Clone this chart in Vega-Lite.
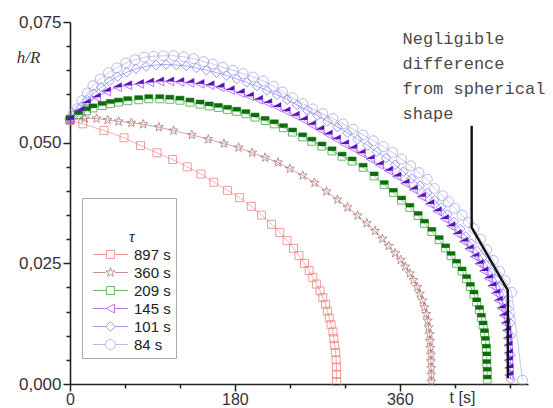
{
  "$schema": "https://vega.github.io/schema/vega-lite/v6.json",
  "width": 458,
  "height": 362,
  "autosize": "none",
  "padding": {"left": 70, "top": 22, "right": 25, "bottom": 24},
  "background": "white",
  "config": {
    "view": {"stroke": null},
    "legend": {
      "orient": "none", "legendX": 12, "legendY": 176, "padding": 5,
      "strokeColor": "#aaaaaa", "fillColor": "white",
      "symbolOffset": 16, "labelOffset": 16, "labelFontSize": 15, "labelFont": "Liberation Sans", "labelColor": "#222222",
      "rowPadding": 2, "titleFont": "Liberation Serif", "titleFontStyle": "italic", "titleFontWeight": "normal",
      "titleFontSize": 16, "titleLineHeight": 26, "titlePadding": 2, "titleAnchor": "middle", "titleAlign": "left",
      "titleColor": "#222222", "symbolStrokeWidth": 1, "symbolSize": 64, "symbolFillColor": "transparent"
    }
  },
  "datasets": {
    "curves": [
      {"s":"897 s","t":0,"h":0.0546},{"s":"897 s","t":14,"h":0.0539},{"s":"897 s","t":37,"h":0.0525},{"s":"897 s","t":59,"h":0.0510},{"s":"897 s","t":77,"h":0.0494},{"s":"897 s","t":95,"h":0.0479},{"s":"897 s","t":112,"h":0.0465},{"s":"897 s","t":128,"h":0.0450},{"s":"897 s","t":143,"h":0.0435},{"s":"897 s","t":157,"h":0.0418},{"s":"897 s","t":172,"h":0.0401},{"s":"897 s","t":185,"h":0.0386},{"s":"897 s","t":198,"h":0.0368},{"s":"897 s","t":209,"h":0.0350},{"s":"897 s","t":220,"h":0.0331},{"s":"897 s","t":229,"h":0.0314},{"s":"897 s","t":237,"h":0.0297},{"s":"897 s","t":244,"h":0.0281},{"s":"897 s","t":250,"h":0.0266},{"s":"897 s","t":256,"h":0.0250},{"s":"897 s","t":261,"h":0.0235},{"s":"897 s","t":265,"h":0.0221},{"s":"897 s","t":269,"h":0.0207},{"s":"897 s","t":273,"h":0.0193},{"s":"897 s","t":276,"h":0.0179},{"s":"897 s","t":279,"h":0.0165},{"s":"897 s","t":281,"h":0.0151},{"s":"897 s","t":283,"h":0.0137},{"s":"897 s","t":285,"h":0.0123},{"s":"897 s","t":287,"h":0.0108},{"s":"897 s","t":288,"h":0.0094},{"s":"897 s","t":289,"h":0.0080},{"s":"897 s","t":290,"h":0.0065},{"s":"897 s","t":290.5,"h":0.0050},{"s":"897 s","t":291,"h":0.0035},{"s":"897 s","t":291,"h":0.0020},{"s":"897 s","t":291,"h":0.0005},
      {"s":"360 s","t":0,"h":0.0548},{"s":"360 s","t":16,"h":0.0550},{"s":"360 s","t":29,"h":0.0550},{"s":"360 s","t":41,"h":0.0547},{"s":"360 s","t":53,"h":0.0544},{"s":"360 s","t":67,"h":0.0541},{"s":"360 s","t":80,"h":0.0538},{"s":"360 s","t":97,"h":0.0532},{"s":"360 s","t":113,"h":0.0525},{"s":"360 s","t":133,"h":0.0516},{"s":"360 s","t":151,"h":0.0507},{"s":"360 s","t":168,"h":0.0498},{"s":"360 s","t":184,"h":0.0490},{"s":"360 s","t":199,"h":0.0479},{"s":"360 s","t":213,"h":0.0469},{"s":"360 s","t":227,"h":0.0459},{"s":"360 s","t":240,"h":0.0446},{"s":"360 s","t":254,"h":0.0432},{"s":"360 s","t":267,"h":0.0417},{"s":"360 s","t":280,"h":0.0399},{"s":"360 s","t":292,"h":0.0382},{"s":"360 s","t":303,"h":0.0366},{"s":"360 s","t":314,"h":0.0349},{"s":"360 s","t":324,"h":0.0333},{"s":"360 s","t":333,"h":0.0317},{"s":"360 s","t":341,"h":0.0301},{"s":"360 s","t":348,"h":0.0286},{"s":"360 s","t":355,"h":0.0271},{"s":"360 s","t":361,"h":0.0257},{"s":"360 s","t":366,"h":0.0243},{"s":"360 s","t":371,"h":0.0229},{"s":"360 s","t":375,"h":0.0215},{"s":"360 s","t":379,"h":0.0201},{"s":"360 s","t":382,"h":0.0187},{"s":"360 s","t":385,"h":0.0173},{"s":"360 s","t":387,"h":0.0159},{"s":"360 s","t":389,"h":0.0145},{"s":"360 s","t":390.5,"h":0.0131},{"s":"360 s","t":391.5,"h":0.0117},{"s":"360 s","t":392.5,"h":0.0103},{"s":"360 s","t":393,"h":0.0089},{"s":"360 s","t":393.5,"h":0.0075},{"s":"360 s","t":394,"h":0.0061},{"s":"360 s","t":394,"h":0.0047},{"s":"360 s","t":394.5,"h":0.0033},{"s":"360 s","t":394.5,"h":0.0019},{"s":"360 s","t":394.5,"h":0.0005},
      {"s":"209 s","t":0,"h":0.0548},{"s":"209 s","t":9,"h":0.0558},{"s":"209 s","t":18,"h":0.0566},{"s":"209 s","t":25,"h":0.0572},{"s":"209 s","t":35,"h":0.0577},{"s":"209 s","t":44,"h":0.0581},{"s":"209 s","t":53,"h":0.0584},{"s":"209 s","t":63,"h":0.0587},{"s":"209 s","t":75,"h":0.0589},{"s":"209 s","t":86,"h":0.0591},{"s":"209 s","t":98,"h":0.0591},{"s":"209 s","t":109,"h":0.0590},{"s":"209 s","t":120,"h":0.0588},{"s":"209 s","t":131,"h":0.0584},{"s":"209 s","t":142,"h":0.0580},{"s":"209 s","t":152,"h":0.0576},{"s":"209 s","t":162,"h":0.0573},{"s":"209 s","t":172,"h":0.0569},{"s":"209 s","t":182,"h":0.0565},{"s":"209 s","t":192,"h":0.0560},{"s":"209 s","t":202,"h":0.0553},{"s":"209 s","t":213,"h":0.0546},{"s":"209 s","t":223,"h":0.0539},{"s":"209 s","t":233,"h":0.0531},{"s":"209 s","t":243,"h":0.0522},{"s":"209 s","t":254,"h":0.0512},{"s":"209 s","t":264,"h":0.0503},{"s":"209 s","t":275,"h":0.0493},{"s":"209 s","t":286,"h":0.0483},{"s":"209 s","t":297,"h":0.0472},{"s":"209 s","t":308,"h":0.0462},{"s":"209 s","t":320,"h":0.0449},{"s":"209 s","t":332,"h":0.0431},{"s":"209 s","t":343,"h":0.0413},{"s":"209 s","t":353,"h":0.0397},{"s":"209 s","t":362,"h":0.0381},{"s":"209 s","t":371,"h":0.0366},{"s":"209 s","t":380,"h":0.0349},{"s":"209 s","t":387,"h":0.0333},{"s":"209 s","t":395,"h":0.0316},{"s":"209 s","t":403,"h":0.0299},{"s":"209 s","t":410,"h":0.0282},{"s":"209 s","t":416,"h":0.0266},{"s":"209 s","t":422,"h":0.0250},{"s":"209 s","t":428,"h":0.0234},{"s":"209 s","t":433,"h":0.0218},{"s":"209 s","t":437,"h":0.0202},{"s":"209 s","t":441,"h":0.0186},{"s":"209 s","t":444,"h":0.0170},{"s":"209 s","t":447,"h":0.0154},{"s":"209 s","t":449,"h":0.0138},{"s":"209 s","t":451,"h":0.0122},{"s":"209 s","t":452.5,"h":0.0106},{"s":"209 s","t":453.5,"h":0.0090},{"s":"209 s","t":454.5,"h":0.0074},{"s":"209 s","t":455,"h":0.0058},{"s":"209 s","t":455,"h":0.0042},{"s":"209 s","t":455.5,"h":0.0026},{"s":"209 s","t":455.5,"h":0.0010},
      {"s":"145 s","t":0,"h":0.0548},{"s":"145 s","t":11,"h":0.0566},{"s":"145 s","t":18,"h":0.0582},{"s":"145 s","t":29,"h":0.0594},{"s":"145 s","t":40,"h":0.0606},{"s":"145 s","t":52,"h":0.0615},{"s":"145 s","t":63,"h":0.0619},{"s":"145 s","t":76,"h":0.0622},{"s":"145 s","t":87,"h":0.0625},{"s":"145 s","t":98,"h":0.0627},{"s":"145 s","t":109,"h":0.0627},{"s":"145 s","t":120,"h":0.0626},{"s":"145 s","t":131,"h":0.0624},{"s":"145 s","t":142,"h":0.0622},{"s":"145 s","t":153,"h":0.0619},{"s":"145 s","t":164,"h":0.0615},{"s":"145 s","t":175,"h":0.0609},{"s":"145 s","t":186,"h":0.0603},{"s":"145 s","t":196,"h":0.0596},{"s":"145 s","t":206,"h":0.0589},{"s":"145 s","t":216,"h":0.0582},{"s":"145 s","t":226,"h":0.0574},{"s":"145 s","t":236,"h":0.0565},{"s":"145 s","t":246,"h":0.0556},{"s":"145 s","t":255,"h":0.0547},{"s":"145 s","t":264,"h":0.0537},{"s":"145 s","t":273,"h":0.0527},{"s":"145 s","t":282,"h":0.0517},{"s":"145 s","t":291,"h":0.0507},{"s":"145 s","t":300,"h":0.0497},{"s":"145 s","t":309,"h":0.0488},{"s":"145 s","t":318,"h":0.0478},{"s":"145 s","t":328,"h":0.0466},{"s":"145 s","t":338,"h":0.0454},{"s":"145 s","t":348,"h":0.0442},{"s":"145 s","t":357,"h":0.0430},{"s":"145 s","t":366,"h":0.0416},{"s":"145 s","t":375,"h":0.0403},{"s":"145 s","t":384,"h":0.0388},{"s":"145 s","t":393,"h":0.0373},{"s":"145 s","t":401,"h":0.0358},{"s":"145 s","t":409,"h":0.0342},{"s":"145 s","t":416,"h":0.0327},{"s":"145 s","t":423,"h":0.0311},{"s":"145 s","t":430,"h":0.0295},{"s":"145 s","t":436,"h":0.0280},{"s":"145 s","t":442,"h":0.0264},{"s":"145 s","t":447,"h":0.0249},{"s":"145 s","t":452,"h":0.0234},{"s":"145 s","t":457,"h":0.0219},{"s":"145 s","t":461,"h":0.0203},{"s":"145 s","t":465,"h":0.0188},{"s":"145 s","t":468,"h":0.0173},{"s":"145 s","t":471,"h":0.0157},{"s":"145 s","t":473.5,"h":0.0142},{"s":"145 s","t":475.5,"h":0.0126},{"s":"145 s","t":477,"h":0.0111},{"s":"145 s","t":478,"h":0.0095},{"s":"145 s","t":478.5,"h":0.0080},{"s":"145 s","t":479,"h":0.0064},{"s":"145 s","t":479,"h":0.0049},{"s":"145 s","t":479.5,"h":0.0033},{"s":"145 s","t":479.5,"h":0.0018},
      {"s":"101 s","t":0,"h":0.0548},{"s":"101 s","t":6,"h":0.0560},{"s":"101 s","t":12,"h":0.0574},{"s":"101 s","t":19,"h":0.0588},{"s":"101 s","t":26,"h":0.0602},{"s":"101 s","t":34,"h":0.0615},{"s":"101 s","t":43,"h":0.0627},{"s":"101 s","t":52,"h":0.0637},{"s":"101 s","t":62,"h":0.0646},{"s":"101 s","t":72,"h":0.0653},{"s":"101 s","t":83,"h":0.0658},{"s":"101 s","t":94,"h":0.0661},{"s":"101 s","t":105,"h":0.0662},{"s":"101 s","t":116,"h":0.0661},{"s":"101 s","t":127,"h":0.0659},{"s":"101 s","t":138,"h":0.0655},{"s":"101 s","t":149,"h":0.0650},{"s":"101 s","t":160,"h":0.0645},{"s":"101 s","t":171,"h":0.0639},{"s":"101 s","t":182,"h":0.0632},{"s":"101 s","t":193,"h":0.0625},{"s":"101 s","t":204,"h":0.0617},{"s":"101 s","t":215,"h":0.0608},{"s":"101 s","t":226,"h":0.0599},{"s":"101 s","t":237,"h":0.0589},{"s":"101 s","t":248,"h":0.0578},{"s":"101 s","t":259,"h":0.0567},{"s":"101 s","t":270,"h":0.0556},{"s":"101 s","t":281,"h":0.0544},{"s":"101 s","t":292,"h":0.0532},{"s":"101 s","t":303,"h":0.0520},{"s":"101 s","t":314,"h":0.0507},{"s":"101 s","t":325,"h":0.0494},{"s":"101 s","t":335,"h":0.0481},{"s":"101 s","t":345,"h":0.0468},{"s":"101 s","t":355,"h":0.0454},{"s":"101 s","t":364,"h":0.0440},{"s":"101 s","t":373,"h":0.0426},{"s":"101 s","t":382,"h":0.0411},{"s":"101 s","t":390,"h":0.0396},{"s":"101 s","t":398,"h":0.0381},{"s":"101 s","t":405,"h":0.0366},{"s":"101 s","t":412,"h":0.0351},{"s":"101 s","t":419,"h":0.0336},{"s":"101 s","t":426,"h":0.0321},{"s":"101 s","t":432,"h":0.0306},{"s":"101 s","t":438,"h":0.0291},{"s":"101 s","t":444,"h":0.0276},{"s":"101 s","t":450,"h":0.0261},{"s":"101 s","t":455,"h":0.0246},{"s":"101 s","t":460,"h":0.0231},{"s":"101 s","t":465,"h":0.0216},{"s":"101 s","t":469,"h":0.0201},{"s":"101 s","t":473,"h":0.0186},{"s":"101 s","t":476,"h":0.0171},{"s":"101 s","t":478,"h":0.0156},{"s":"101 s","t":479.5,"h":0.0141},{"s":"101 s","t":480.5,"h":0.0126},{"s":"101 s","t":481,"h":0.0100},{"s":"101 s","t":481,"h":0.0060},{"s":"101 s","t":481,"h":0.0010},
      {"s":"84 s","t":0,"h":0.0550},{"s":"84 s","t":4,"h":0.0560},{"s":"84 s","t":8,"h":0.0570},{"s":"84 s","t":13,"h":0.0587},{"s":"84 s","t":19,"h":0.0603},{"s":"84 s","t":25,"h":0.0618},{"s":"84 s","t":33,"h":0.0632},{"s":"84 s","t":42,"h":0.0645},{"s":"84 s","t":51,"h":0.0655},{"s":"84 s","t":61,"h":0.0665},{"s":"84 s","t":71,"h":0.0672},{"s":"84 s","t":81,"h":0.0677},{"s":"84 s","t":91,"h":0.0679},{"s":"84 s","t":102,"h":0.0680},{"s":"84 s","t":113,"h":0.0680},{"s":"84 s","t":124,"h":0.0678},{"s":"84 s","t":135,"h":0.0674},{"s":"84 s","t":146,"h":0.0668},{"s":"84 s","t":156,"h":0.0663},{"s":"84 s","t":167,"h":0.0656},{"s":"84 s","t":178,"h":0.0650},{"s":"84 s","t":189,"h":0.0643},{"s":"84 s","t":200,"h":0.0636},{"s":"84 s","t":211,"h":0.0628},{"s":"84 s","t":222,"h":0.0617},{"s":"84 s","t":232,"h":0.0605},{"s":"84 s","t":243,"h":0.0593},{"s":"84 s","t":254,"h":0.0581},{"s":"84 s","t":265,"h":0.0570},{"s":"84 s","t":276,"h":0.0560},{"s":"84 s","t":287,"h":0.0550},{"s":"84 s","t":298,"h":0.0539},{"s":"84 s","t":309,"h":0.0528},{"s":"84 s","t":320,"h":0.0516},{"s":"84 s","t":331,"h":0.0504},{"s":"84 s","t":342,"h":0.0492},{"s":"84 s","t":352,"h":0.0480},{"s":"84 s","t":362,"h":0.0466},{"s":"84 s","t":372,"h":0.0452},{"s":"84 s","t":381,"h":0.0438},{"s":"84 s","t":390,"h":0.0424},{"s":"84 s","t":398,"h":0.0405},{"s":"84 s","t":407,"h":0.0390},{"s":"84 s","t":413,"h":0.0378},{"s":"84 s","t":420,"h":0.0364},{"s":"84 s","t":428,"h":0.0350},{"s":"84 s","t":435,"h":0.0335},{"s":"84 s","t":441,"h":0.0322},{"s":"84 s","t":448,"h":0.0300},{"s":"84 s","t":455,"h":0.0278},{"s":"84 s","t":462,"h":0.0256},{"s":"84 s","t":469,"h":0.0233},{"s":"84 s","t":475,"h":0.0214},{"s":"84 s","t":482,"h":0.0190},{"s":"84 s","t":494,"h":0.0008}
    ],
    "ann": [
      {"t":438.5,"h":0.0535},{"t":438.5,"h":0.0324},{"t":478,"h":0.0194},{"t":478,"h":0.0012}
    ],
    "note": [
      {"t":363,"h":0.0731,"label":"Negligible\ndifference\nfrom spherical\nshape"}
    ]
  },
  "encoding": {
    "x": {
      "field": "t", "type": "quantitative",
      "scale": {"domain": [0, 500], "nice": false, "zero": false},
      "axis": {
        "values": [0, 60, 120, 180, 240, 300, 360, 420, 480],
        "labelExpr": "datum.value % 180 === 0 ? datum.label : ''",
        "tickSize": {"condition": {"test": "datum.value % 180 === 0", "value": 7}, "value": 4},
        "grid": false, "domainColor": "#222222", "domainWidth": 1.6, "tickColor": "#222222", "tickWidth": 1.5,
        "labelFontSize": 16, "labelFont": "Liberation Sans", "labelColor": "#333333", "labelPadding": 0, "labelFlush": false,
        "title": "t [s]", "titleX": 392, "titleY": 13, "titleBaseline": "middle", "titleAlign": "center", "titleAnchor": null,
        "titleFontWeight": "normal", "titleFontSize": 16, "titleFont": "Liberation Sans", "titleColor": "#333333"
      }
    },
    "y": {
      "field": "h", "type": "quantitative",
      "scale": {"domain": [0, 0.075], "nice": false},
      "axis": {
        "values": [0, 0.005, 0.01, 0.015, 0.02, 0.025, 0.03, 0.035, 0.04, 0.045, 0.05, 0.055, 0.06, 0.065, 0.07, 0.075],
        "labelExpr": "abs(datum.value / 0.025 - round(datum.value / 0.025)) < 0.001 ? replace(format(datum.value, '.3f'), '.', ',') : ''",
        "tickSize": {"condition": {"test": "abs(datum.value / 0.025 - round(datum.value / 0.025)) < 0.001", "value": 7}, "value": 4},
        "grid": false, "domainColor": "#222222", "domainWidth": 1.6, "tickColor": "#222222", "tickWidth": 1.5,
        "labelFontSize": 17, "labelFont": "Liberation Sans", "labelColor": "#333333", "labelPadding": 2, "labelFlush": false,
        "title": "h/R", "titleAngle": 0, "titleX": -42, "titleY": 35, "titleBaseline": "middle", "titleAlign": "center", "titleAnchor": null,
        "titleFont": "Liberation Serif", "titleFontStyle": "italic", "titleFontWeight": "normal", "titleFontSize": 17, "titleColor": "#333333"
      }
    }
  },
  "layer": [
    {
      "data": {"name": "curves"},
      "transform": [{"filter": "datum.t < 0"}],
      "mark": {"type": "point", "filled": false, "size": 64, "strokeWidth": 1},
      "encoding": {
        "color": {
          "field": "s", "type": "nominal",
          "scale": {"domain": ["897 s", "360 s", "209 s", "145 s", "101 s", "84 s"], "range": ["#ee7272", "#a76262", "#2f9a2f", "#9440ee", "#6d6df0", "#9d9de6"]},
          "legend": {"title": ["", "\u00a0\u00a0τ"]}
        },
        "shape": {
          "field": "s", "type": "nominal",
          "scale": {"domain": ["897 s", "360 s", "209 s", "145 s", "101 s", "84 s"], "range": [
            "M-4.4,0L-1,0M1,0L4.4,0M-1,-1L1,-1L1,1L-1,1Z",
            "M-4.4,0L-1.15,0M1.15,0L4.4,0M0,-1.2L0.282,-0.388L1.141,-0.371L0.456,0.148L0.706,0.971L0,0.48L-0.706,0.971L-0.456,0.148L-1.141,-0.371L-0.282,-0.388Z",
            "M-4.4,0L-1,0M1,0L4.4,0M-1,-1L1,-1L1,1L-1,1Z",
            "M-4.4,0L-1.1,0M1,0L4.4,0M-1.1,0L1,-1.1L1,1.1Z",
            "M-4.4,0L-1.2,0M1.2,0L4.4,0M0,-1.2L1.2,0L0,1.2L-1.2,0Z",
            "M-4.4,0L-1.25,0M1.25,0L4.4,0M1.25,0A1.25,1.25,0,1,1,-1.25,0A1.25,1.25,0,1,1,1.25,0Z"
          ]},
          "legend": {"title": ["", "\u00a0\u00a0τ"]}
        }
      }
    },
    {
      "data": {"name": "curves"},
      "mark": {"type": "line", "strokeWidth": 0.8, "opacity": 0.7},
      "encoding": {
        "stroke": {
          "field": "s", "type": "nominal", "legend": null,
          "scale": {"range": ["#6d6df0", "#9440ee", "#2f9a2f", "#a76262", "#9d9de6", "#ee7272"]}
        },
        "order": {"value": null}
      }
    },
    {
      "data": {"name": "curves"},
      "transform": [{"filter": "datum.s === '897 s'"}],
      "mark": {"type": "point", "filled": false, "size": 64, "strokeWidth": 1, "color": "#ee7272", "shape": "M-1,-1H1V1H-1Z"},
      "encoding": {}
    },
    {
      "data": {"name": "curves"},
      "transform": [{"filter": "datum.s === '360 s'"}],
      "mark": {"type": "point", "filled": false, "size": 64, "strokeWidth": 1, "color": "#a76262", "shape": "M0,-1.2L0.282,-0.388L1.141,-0.371L0.456,0.148L0.706,0.971L0,0.48L-0.706,0.971L-0.456,0.148L-1.141,-0.371L-0.282,-0.388Z"},
      "encoding": {}
    },
    {
      "data": {"name": "curves"},
      "transform": [{"filter": "datum.s === '209 s'"}],
      "mark": {"type": "point", "filled": false, "size": 64, "strokeWidth": 1, "color": "#2f9a2f", "shape": "M-1,-1H1V1H-1Z"},
      "encoding": {}
    },
    {
      "data": {"name": "curves"},
      "transform": [{"filter": "datum.s === '145 s'"}],
      "mark": {"type": "point", "filled": false, "size": 64, "strokeWidth": 1, "color": "#9440ee", "shape": "M-1.1,0L1,-1.1L1,1.1Z"},
      "encoding": {}
    },
    {
      "data": {"name": "curves"},
      "transform": [{"filter": "datum.s === '101 s'"}],
      "mark": {"type": "point", "filled": false, "size": 64, "strokeWidth": 1, "color": "#6d6df0", "shape": "M0,-1.2L1.2,0L0,1.2L-1.2,0Z"},
      "encoding": {}
    },
    {
      "data": {"name": "curves"},
      "transform": [{"filter": "datum.s === '84 s'"}],
      "mark": {"type": "point", "filled": false, "size": 64, "strokeWidth": 1, "color": "#9d9de6", "shape": "M1.25,0A1.25,1.25,0,1,1,-1.25,0A1.25,1.25,0,1,1,1.25,0Z"},
      "encoding": {}
    },
    {
      "data": {"name": "curves"},
      "transform": [{"filter": "datum.s === '209 s'"}],
      "mark": {"type": "point", "filled": true, "size": 64, "strokeWidth": 0, "opacity": 1, "color": "#0b6e0b", "shape": "M-1,-1H1V0H-1Z"},
      "encoding": {}
    },
    {
      "data": {"name": "curves"},
      "transform": [{"filter": "datum.s === '145 s'"}],
      "mark": {"type": "point", "filled": true, "size": 64, "strokeWidth": 0, "opacity": 1, "color": "#5a10b8", "shape": "M-1.1,0L1,-1.1L1,0Z"},
      "encoding": {}
    },
    {
      "data": {"name": "ann"},
      "mark": {"type": "line", "color": "#111111", "strokeWidth": 2.4},
      "encoding": {"order": {"value": null}}
    },
    {
      "data": {"name": "note"},
      "mark": {"type": "text", "font": "Liberation Mono", "fontSize": 17, "color": "#4a4a4a", "align": "left", "baseline": "top", "lineBreak": "\n", "lineHeight": 25},
      "encoding": {"text": {"field": "label"}}
    }
  ]
}
